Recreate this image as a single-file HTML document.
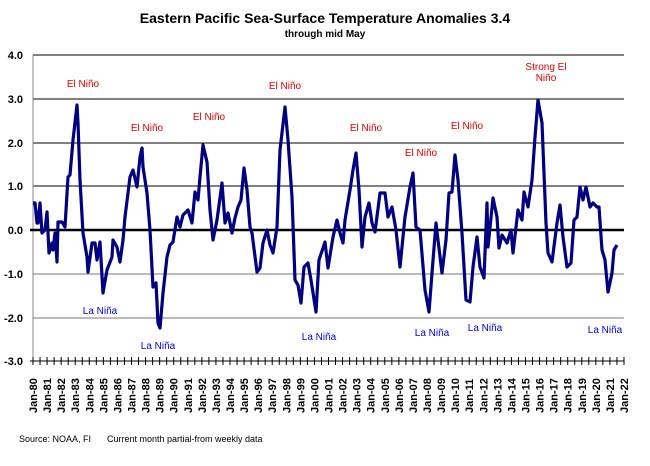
<!DOCTYPE html>
<html><head><meta charset="utf-8"><style>
body{margin:0;background:#fff;}
svg text{font-family:"Liberation Sans",Arial,sans-serif;}
</style></head><body>
<svg width="650" height="461" xmlns="http://www.w3.org/2000/svg">
<rect width="650" height="461" fill="#fff"/>
<text x="325" y="23" text-anchor="middle" font-size="14" font-weight="bold">Eastern Pacific Sea-Surface Temperature Anomalies 3.4</text>
<text x="325" y="37" text-anchor="middle" font-size="10" font-weight="bold">through mid May</text>
<g stroke="#000" stroke-width="1">
<line x1="33" y1="55" x2="624" y2="55"/><line x1="33" y1="99" x2="624" y2="99"/>
<line x1="33" y1="143" x2="624" y2="143"/><line x1="33" y1="186" x2="624" y2="186"/>
<line x1="33" y1="274" x2="624" y2="274" stroke="#777"/><line x1="33" y1="318" x2="624" y2="318" stroke="#777"/>
<line x1="33" y1="361" x2="624" y2="361" stroke="#777"/>
<line x1="33" y1="55" x2="33" y2="361" stroke="#888"/>
</g>
<line x1="30" y1="230" x2="624" y2="230" stroke="#000" stroke-width="2.5"/>
<g font-size="11" font-weight="bold" text-anchor="end">
<text x="23" y="59">4.0</text><text x="23" y="103">3.0</text><text x="23" y="147">2.0</text><text x="23" y="190">1.0</text>
<text x="23" y="234">0.0</text><text x="23" y="278">-1.0</text><text x="23" y="322">-2.0</text><text x="23" y="365">-3.0</text>
</g>
<g id="ticks" stroke="#000"></g>
<g id="xl" font-size="11" font-weight="bold"></g>
<polyline fill="none" stroke="#000080" stroke-width="3.2" stroke-linejoin="round" points="33,203 35,203 37,223 38,223 40,203 42,233 45,230 47,212 49,253 52,243 53,250 55,233 57,262 58,222 62,222 65,227 68,177 70,175 73,140 77,105 78,123 80,180 83,233 87,257 88,272 92,243 95,243 97,260 100,242 103,293 107,270 112,257 113,240 117,247 120,262 123,240 125,217 130,177 133,170 137,187 140,157 142,148 143,167 147,193 150,230 153,287 156,283 158,323 160,328 163,293 167,257 170,245 173,242 177,217 180,227 183,215 188,210 192,223 195,192 198,200 200,177 203,145 207,162 210,210 213,240 217,220 222,183 225,223 228,213 232,233 235,218 238,207 241,200 244,168 247,190 250,227 252,233 257,272 260,268 263,243 267,230 270,245 273,253 277,227 280,150 285,107 288,140 292,197 295,280 298,285 301,303 304,267 308,263 311,280 316,312 319,260 325,242 328,268 333,237 337,220 340,233 343,243 345,220 350,190 353,170 356,153 359,190 362,247 365,217 369,203 372,223 375,232 380,193 385,193 388,217 392,207 396,230 400,267 405,217 410,187 413,173 416,227 420,230 425,290 429,312 432,273 436,223 438,240 442,273 446,240 449,193 452,192 455,155 458,180 462,233 466,300 470,302 473,267 477,237 480,267 484,278 487,203 488,247 493,198 497,217 499,248 502,235 507,243 511,230 513,253 518,210 522,220 524,192 528,207 532,180 535,137 538,100 542,123 546,223 548,253 552,262 557,223 560,205 563,237 567,267 571,263 574,220 577,217 580,187 583,200 586,187 590,207 593,203 597,207 599,207 602,250 605,260 608,292 612,273 614,250 617,245"/>
<g font-size="10" fill="#e00000" text-anchor="middle">
<text x="83" y="87">El Niño</text><text x="147" y="131">El Niño</text><text x="209" y="120">El Niño</text>
<text x="285" y="89">El Niño</text><text x="366" y="131">El Niño</text><text x="421" y="156">El Niño</text>
<text x="467" y="129">El Niño</text><text x="546" y="70">Strong El</text><text x="546" y="81">Niño</text>
</g>
<g font-size="10" fill="#0000e0" text-anchor="middle">
<text x="100" y="314">La Niña</text><text x="158" y="349">La Niña</text><text x="319" y="340">La Niña</text>
<text x="432" y="336">La Niña</text><text x="485" y="331">La Niña</text><text x="605" y="333">La Niña</text>
</g>
<text x="19" y="442" font-size="9">Source: NOAA, FI</text>
<text x="107" y="442" font-size="9">Current month partial-from weekly data</text>
<script>
var t=document.getElementById('ticks'),xl=document.getElementById('xl'),ns='http://www.w3.org/2000/svg';
for(var i=0;i<=84;i++){var x=33+i*591/84;var l=document.createElementNS(ns,'line');l.setAttribute('x1',x);l.setAttribute('x2',x);l.setAttribute('y1',357);l.setAttribute('y2',365);t.appendChild(l);}
var h=document.createElementNS(ns,'line');h.setAttribute('x1',30);h.setAttribute('x2',624);h.setAttribute('y1',361);h.setAttribute('y2',361);t.appendChild(h);
for(var y=0;y<=42;y++){var x=33+y*591/42;var s=document.createElementNS(ns,'text');var yy=(80+y)%100;s.textContent='Jan-'+(yy<10?'0':'')+yy;s.setAttribute('transform','translate('+(x+4)+',413) rotate(-90)');xl.appendChild(s);}
</script>
</svg>
</body></html>
